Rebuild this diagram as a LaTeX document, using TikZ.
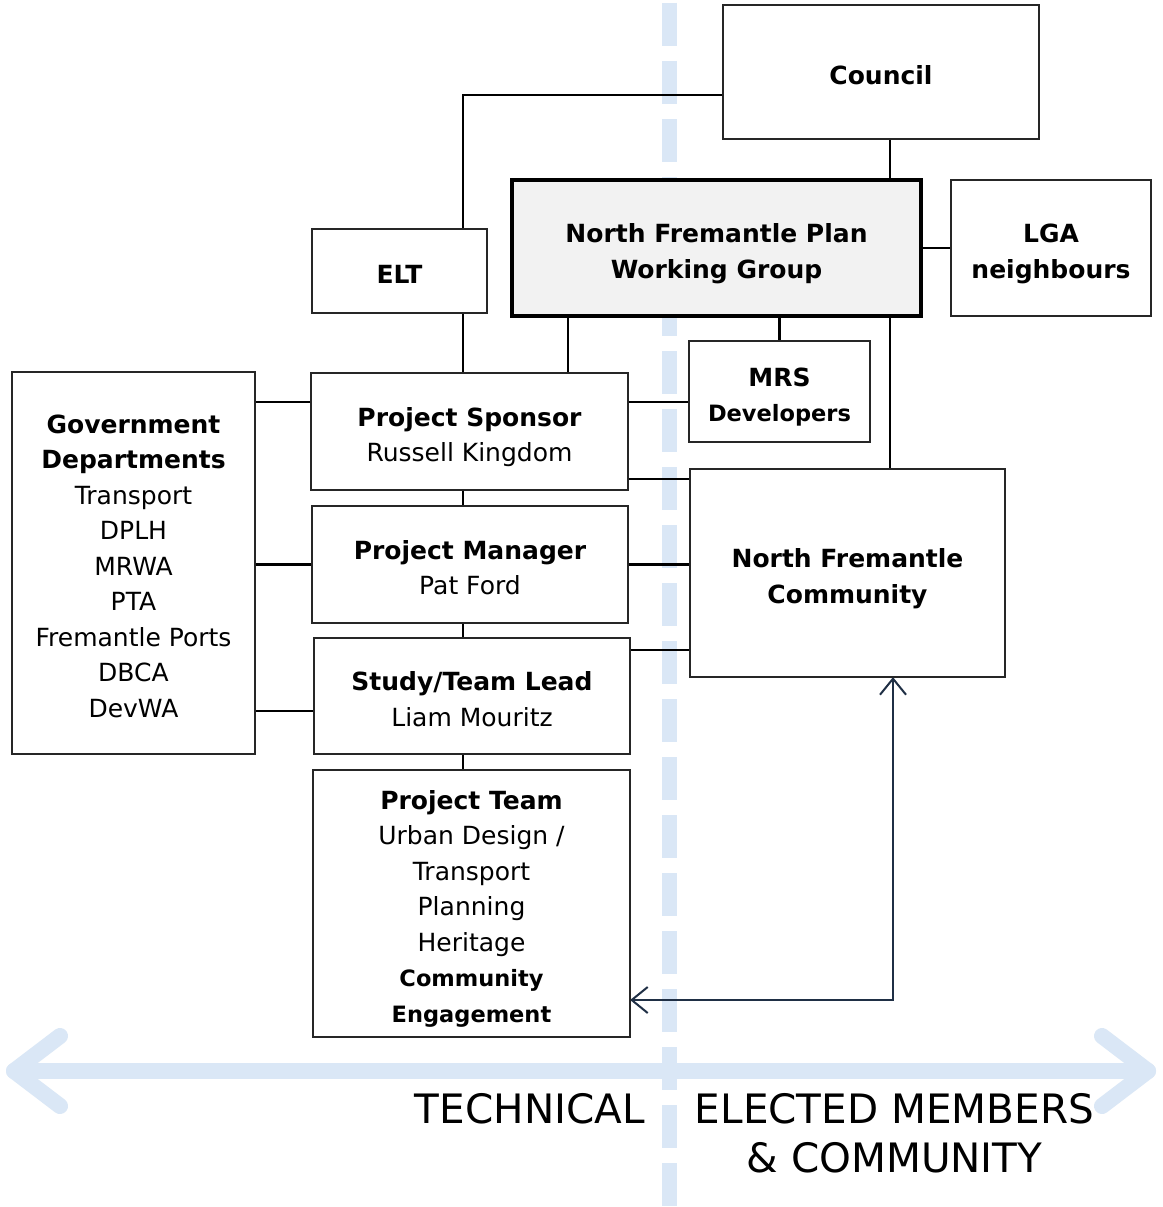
\documentclass[tikz,border=0pt]{standalone}
\usepackage{fontspec}
\setmainfont{DejaVu Sans}
\usepackage[HTML]{xcolor}
\usetikzlibrary{positioning, arrows.meta}
\definecolor{paleblue}{HTML}{DAE7F6}
\definecolor{navy}{HTML}{1F2F45}
\definecolor{wggrey}{HTML}{F2F2F2}
% even out first/last line so the text sits like the original
\newcommand{\bt}{\rule{0pt}{31pt}}
\newcommand{\bb}{\rule[-6.5pt]{0pt}{6.5pt}}

\tikzset{
  box/.style={draw=black!85, line width=1.4pt, fill=white, inner sep=0pt,
    align=center, font=\fontsize{25}{35.5}\selectfont},
  wgbox/.style={box, line width=4pt, draw=black, fill=wggrey},
  link/.style={line width=2.8pt},
  feedback/.style={draw=navy, line width=2pt,
    {Straight Barb[length=16pt,width=26pt,line join=round]}-{Straight Barb[length=16pt,width=26pt,line join=round]}},
  divider/.style={draw=paleblue, line width=15pt, dash pattern=on 43pt off 15pt, dash phase=55pt},
  axisline/.style={draw=paleblue, line width=16pt, line cap=round, line join=round},
  axislabel/.style={inner sep=0pt, font=\fontsize{40.5}{48}\selectfont}
}

\begin{document}
\begin{tikzpicture}[x=1pt, y=-1pt]
\fill[white] (0,0) rectangle (1162,1207);
\useasboundingbox (0,0) rectangle (1162,1207);

% technical / elected divide
\draw[divider] (669,0) -- (669,1207);
\draw[axisline] (14,1071) -- (1148,1071);
\draw[axisline] (60,1036) -- (14,1071) -- (60,1106);
\draw[axisline] (1102,1036) -- (1148,1071) -- (1102,1106);
\node[axislabel, anchor=base east] (technical) at (645,1123) {TECHNICAL};
\node[axislabel, anchor=base] (elected) at (894.5,1123) {ELECTED MEMBERS};
\node[axislabel, anchor=base] (community) at (894.5,1172) {\& COMMUNITY};

% boxes
\node[box, minimum width=316pt, minimum height=134pt] (council) at (881,72) {\bt\textbf{Council}\bb};
\node[wgbox, minimum width=409pt, minimum height=136pt] (wg) at (716.5,248) {\bt\textbf{North Fremantle Plan}\\\textbf{Working Group}\bb};
\node[box, minimum width=200pt, minimum height=136pt] (lga) at (1051,248) {\bt\textbf{LGA}\\\textbf{neighbours}\bb};
\node[box, minimum width=175pt, minimum height=84pt] (elt) at (399.5,271) {\bt\textbf{ELT}\bb};
\node[box, minimum width=243pt, minimum height=382pt] (gov) at (133.5,563)
  {\bt\textbf{Government}\\\textbf{Departments}\\Transport\\DPLH\\MRWA\\PTA\\Fremantle Ports\\DBCA\\DevWA\bb};
\node[box, minimum width=317pt, minimum height=117pt] (sponsor) at (469.5,431.5) {\bt\textbf{Project Sponsor}\\Russell Kingdom\bb};
\node[box, minimum width=181pt, minimum height=101pt] (mrs) at (779.5,391.5)
  {\bt\textbf{MRS}\\{\fontsize{22.5}{35.5}\selectfont\bfseries Developers}\bb};
\node[box, minimum width=316pt, minimum height=117pt] (manager) at (470,564.5) {\bt\textbf{Project Manager}\\Pat Ford\bb};
\node[box, minimum width=316pt, minimum height=116pt] (lead) at (472,696) {\bt\textbf{Study/Team Lead}\\Liam Mouritz\bb};
\node[box, minimum width=317pt, minimum height=267pt] (team) at (471.5,903.5)
  {\bt\textbf{Project Team}\\Urban Design /\\Transport\\Planning\\Heritage\\
   {\fontsize{22.5}{35.5}\selectfont\bfseries Community}\\{\fontsize{22.5}{35.5}\selectfont\bfseries Engagement}\bb};
\node[box, minimum width=315pt, minimum height=208pt] (nfc) at (847.5,573) {\bt\textbf{North Fremantle}\\\textbf{Community}\bb};

% reporting lines
\coordinate (trunk) at (463,95);
\coordinate (wgdrop) at (568,316);
\coordinate (bus) at (890,139);
\coordinate (fb) at (893,1000);
\draw[link] ([yshift=-23pt]council.west) -- (trunk) -- (trunk |- elt.north);
\draw[link] (trunk |- elt.south) -- (trunk |- sponsor.north);
\draw[link] (trunk |- sponsor.south) -- (trunk |- manager.north);
\draw[link] (trunk |- manager.south) -- (trunk |- lead.north);
\draw[link] (trunk |- lead.south) -- (trunk |- team.north);
\draw[link] (council.south -| bus) -- (wg.north -| bus);
\draw[link] (wg.south -| bus) -- (nfc.north -| bus);
\draw[link] (wg.east) -- (lga.west);
\draw[link] (wgdrop) -- (wgdrop |- sponsor.north);
\draw[link] (wg.south -| mrs.north) -- (mrs.north);
\draw[link] ([yshift=29.5pt]sponsor.west) coordinate (gs) -- (gs -| gov.east);
\draw[link] (manager.west) -- (manager.west -| gov.east);
\draw[link] ([yshift=-15pt]lead.west) coordinate (gl) -- (gl -| gov.east);
\draw[link] ([yshift=29.5pt]sponsor.east) coordinate (sm) -- (sm -| mrs.west);
\draw[link] ([yshift=-47.5pt]sponsor.east) coordinate (sn) -- (sn -| nfc.west);
\draw[link] (manager.east) -- (manager.east -| nfc.west);
\draw[link] ([yshift=46pt]lead.east) coordinate (ln) -- (ln -| nfc.west);
\draw[feedback] (nfc.south -| fb) |- (team.east |- fb);
\end{tikzpicture}
\end{document}
